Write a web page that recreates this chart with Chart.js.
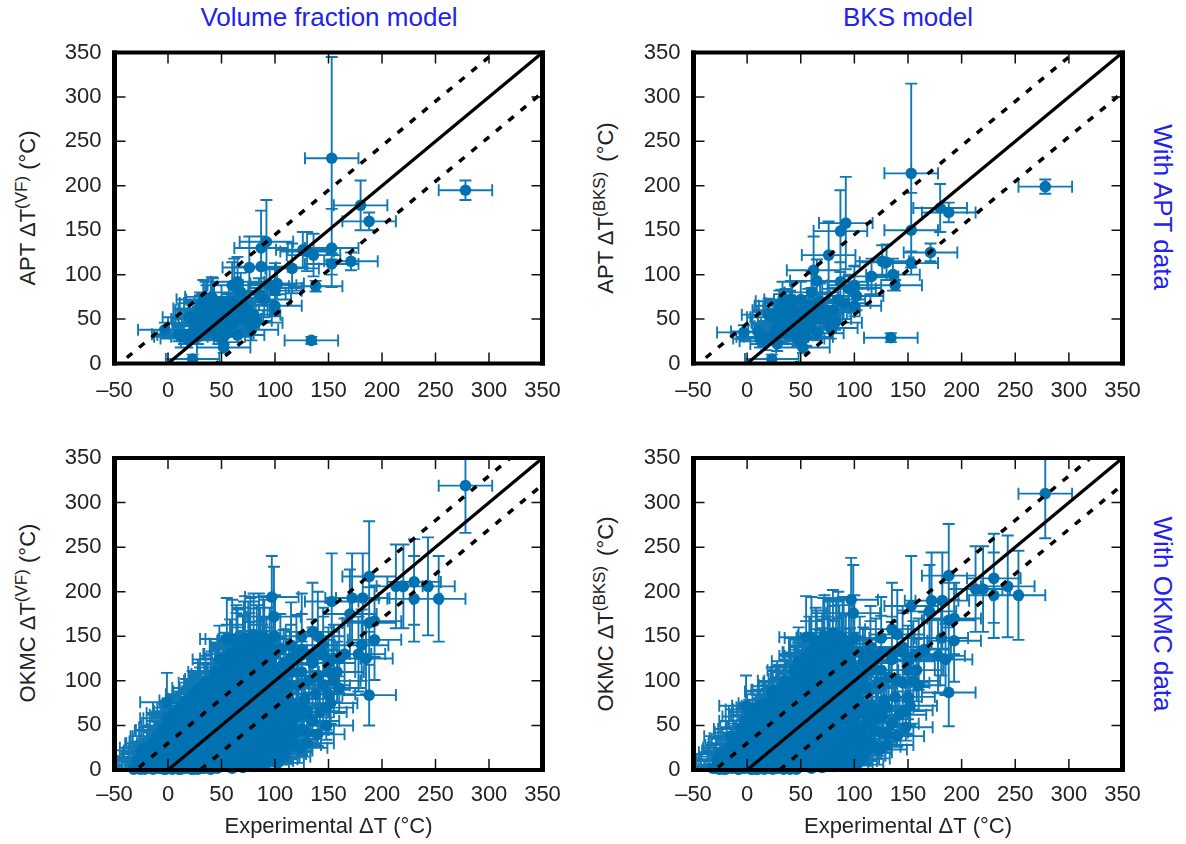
<!DOCTYPE html>
<html>
<head>
<meta charset="utf-8">
<script src="https://cdn.jsdelivr.net/npm/chart.js@4"></script>
<style>
  html, body { margin: 0; padding: 0; background: #fff; }
  body { width: 1186px; height: 844px; position: relative; overflow: hidden; font-family: "Liberation Sans", sans-serif; }
  canvas { position: absolute; }
  .head, .side, .ylab { position: absolute; white-space: nowrap; line-height: 1; }
  .head, .side { color: #2222ee; font-size: 26px; }
  .head { transform: translateX(-50%); top: 4px; }
  .side { transform: translate(-50%, -50%) rotate(90deg); }
  .ylab { color: #222; font-size: 22px; transform: translate(-50%, -50%) rotate(-90deg); }
  .gap { margin-left: 10px; }
  sup { font-size: 17px; line-height: 0; }
</style>
</head>
<body>
<div class="head" style="left:329px">Volume fraction model</div>
<div class="head" style="left:908px">BKS model</div>
<div class="side" style="left:1163px;top:207px">With APT data</div>
<div class="side" style="left:1163px;top:614px">With OKMC data</div>
<div class="ylab" style="left:28px;top:208px">APT ΔT<sup>(VF)</sup> (°C)</div>
<div class="ylab" style="left:606px;top:208px">APT ΔT<sup>(BKS)</sup><span class="gap">(°C)</span></div>
<div class="ylab" style="left:28px;top:613px">OKMC ΔT<sup>(VF)</sup> (°C)</div>
<div class="ylab" style="left:606px;top:614px">OKMC ΔT<sup>(BKS)</sup><span class="gap">(°C)</span></div>
<canvas id="aptVF" width="580" height="380" style="left:0;top:30px"></canvas>
<canvas id="aptBKS" width="596" height="380" style="left:590px;top:30px"></canvas>
<canvas id="okmcVF" width="580" height="414" style="left:0;top:430px"></canvas>
<canvas id="okmcBKS" width="596" height="414" style="left:590px;top:430px"></canvas>
<script>
// experimental error is about the same for every measurement
const expError = 25;
const tickValues = [-50, 0, 50, 100, 150, 200, 250, 300, 350];
const lineX = [-50, 350];
const parityY = [-50, 350];
const aptUpperY = [-5, 395];
const aptLowerY = [-95, 305];
const okmcUpperY = [-20, 380];
const okmcLowerY = [-80, 320];

// APT data set
const aptExp = [
  278,153,153,153,180,188,92,87,76,62,
  126,130,136,171,116,134,138,23,52,-3,
  82,100,100,102,87,65,60,68,55,100,
  10,12,15,18,20,22,25,28,30,30,
  32,33,35,35,38,40,40,42,45,45,
  48,50,50,52,55,55,58,60,60,62,
  65,68,70,72,75,78,80,85,90,95,
  28,30,32,34,36,38,40,42,44,46,
  26,29,33,37,41,47,50,53,57,64
];
const aptVF = [
  195,231,130,112,178,160,137,130,108,88,
  128,126,122,115,107,26,87,5,18,38,
  46,65,85,90,109,92,88,80,62,82,
  33,30,32,28,52,34,46,30,55,42,
  60,38,62,50,52,68,44,72,58,36,
  48,70,42,30,58,34,46,70,45,50,
  32,60,66,48,60,38,55,78,72,88,
  50,62,45,55,68,42,58,48,62,40,
  38,44,72,36,75,30,56,42,68,52
];
const aptVFErr = [
  11,114,44,12,28,10,47,42,35,30,
  20,22,24,10,28,4,6,5,6,8,
  8,12,28,18,34,28,26,22,16,24,
  8,12,10,10,18,9,14,8,22,10,
  18,12,30,12,18,20,12,24,16,10,
  14,18,12,8,16,10,12,22,12,14,
  8,16,16,12,14,12,14,18,20,18,
  14,18,12,16,20,12,16,14,18,11,
  10,12,22,10,22,8,16,12,20,14
];
const aptBKS = [
  199,214,150,113,175,170,158,149,122,105,
  115,114,100,125,98,29,88,5,18,35,
  46,65,85,76,92,93,80,70,60,88,
  36,28,30,25,55,30,52,22,58,45,
  65,35,55,48,44,62,36,68,50,38,
  50,72,40,28,55,30,42,65,48,52,
  34,58,62,50,58,40,60,72,68,84,
  52,60,42,58,65,40,60,50,58,42,
  36,46,70,34,72,28,58,40,65,50
];
const aptBKSErr = [
  8,101,42,13,27,11,52,46,38,38,
  18,20,18,10,20,5,6,5,6,8,
  8,12,24,16,22,24,24,20,16,22,
  8,10,10,10,18,9,15,8,24,10,
  18,12,26,12,16,20,10,24,16,10,
  14,20,12,8,16,10,12,20,12,14,
  8,16,16,12,14,12,16,16,18,16,
  14,18,12,17,19,11,17,14,17,11,
  10,13,22,9,21,8,17,11,19,14
];

// OKMC data set
const okmcExp = [
  278,188,-1,97,99,188,153,172,182,170,
  213,220,230,230,243,253,193,188,193,181,
  178,185,55,60,72,80,85,90,48,62,
  148,130,125,130,140,125,135,100,145,150,
  155,150,160,120,110,105,115,135,140,100,
  95,90,85,80,75,70,65,60,55,50,
  45,40,35,30,25,20,15,10,5,0,
  -5,-10,-15,-20,-25,-28,-30,-22,-18,-12,
  -8,-4,0,4,8,12,16,20,24,28,
  32,36,40,44,48,52,55,60,65,70,
  5,5,8,10,12,15,15,18,20,22,
  22,25,28,28,30,30,32,35,35,38,
  38,40,40,42,45,45,48,48,50,50,
  52,52,55,55,58,58,60,60,62,62,
  65,65,68,68,70,70,72,72,75,75,
  78,78,80,80,82,82,85,85,88,88,
  90,90,92,92,95,95,98,98,100,100,
  102,102,105,105,108,108,110,110,112,115,
  118,120,122,125,125,128,130,132,135,138,
  140,142,145,148,150,152,155,158,160,165,
  -15,-10,-8,-5,-2,0,2,3,5,8,
  10,12,14,16,18,20,24,26,28,34,
  36,42,46,54,56,64,66,74,76,84,
  60,70,80,88,92,98,104,110,118,124,
  -25,-22,-20,-18,-16,-14,-12,-10,-8,-6,
  -4,-2,0,2,4,6,8,10,12,14,
  14,16,18,20,22,24,26,28,30,32,
  32,34,36,38,40,42,44,46,48,50,
  52,54,56,58,60,62,64,66,68,70,
  72,74,76,78,80,82,84,86,88,90,
  12,18,24,30,36,42,48,54,60,66,
  72,78,84,90,96,102,108,114,120,126,
  60,64,68,72,76,80,84,88,92,96,
  40,44,48,52,56,60,64,68,72,76,
  80,84,88,92,96,100,104,108,112,116,
  2,6,10,14,18,22,26,30,34,38,
  42,46,50,54,58,62,66,70,74,78,
  82,86,90,94,98,102,106,110,114,118,
  55,65,75,85,95,105,115,125,135,145,
  70,75,80,85,90,95,100,105,110,115,
  -32,-26,-20,-14,-8,-2,4,10,16,22,
  28,34,40,46,-24,-17,-11,-6,-1,5,
  11,17,23,29,35,41,47,53,59,65,
  71,77,83,89,95,47,53,59,65,71,
  0,6,12,18,24,30,36,42,48,54,
  60,66,72,78,84,90,96,102,108,114,
  6,12,18,24,30,36,42,48,54,60,
  66,72,78,84,90,96,30,36,42,48,
  54,60,66,72,78,84,90,96,102,108,
  -10,-4,2,8,14,20,26,32,38,44,
  50,56,62,68,74,80,86,92,98,104,
  26,32,38,44,50,56,62,68,74,80,
  86,92,98,104,70,76,82,88,94,100,
  58,64,70,76,82,88,94,52,46,40,
  36,30,24,18,12,6,0,-6,-12,-18
];
const okmcVF = [
  319,84,76,194,172,217,189,193,193,175,
  206,206,211,192,206,192,167,165,146,140,
  130,125,147,147,147,152,148,147,124,110,
  70,42,70,65,150,150,155,150,130,110,
  100,120,125,130,118,100,140,120,105,130,
  120,110,125,135,115,130,120,105,110,100,
  105,95,90,85,80,75,70,60,55,50,
  45,38,30,25,22,12,2,1,15,3,
  2,1,3,1,2,1,4,2,1,3,
  2,6,3,5,4,8,6,10,8,5,
  12,30,22,40,18,48,28,10,35,58,
  20,42,12,65,30,50,8,75,22,40,
  62,15,85,32,50,72,10,90,28,60,
  42,80,18,95,35,68,12,88,50,115,
  30,75,15,100,45,90,22,60,10,80,
  38,110,18,70,50,95,28,62,12,105,
  45,80,25,130,60,95,35,72,20,110,
  48,85,30,68,15,120,55,92,38,75,
  28,60,95,45,110,80,30,100,55,85,
  40,65,95,50,85,75,125,110,92,130,
  8,18,28,12,35,22,42,8,62,15,
  8,52,30,60,22,68,5,72,45,58,
  30,55,20,55,26,48,62,35,70,55,
  2,3,4,6,10,14,18,22,28,25,
  5,10,18,8,22,30,14,26,38,20,
  30,48,12,58,28,40,54,22,66,34,
  12,44,72,18,50,82,28,58,88,14,
  42,68,92,18,52,78,32,95,60,12,
  28,70,100,50,8,85,38,110,58,20,
  45,92,15,68,125,30,55,140,8,100,
  60,30,62,40,72,28,42,60,35,48,
  75,48,72,60,48,60,68,55,70,62,
  125,135,118,140,128,145,112,130,115,120,
  100,110,82,105,88,98,92,88,100,105,
  85,95,88,75,85,70,80,105,95,110,
  18,8,35,52,48,65,15,78,35,25,
  5,42,45,35,80,68,5,70,55,12,
  15,28,38,30,55,40,45,30,60,42,
  125,140,145,120,140,135,125,135,130,140,
  38,30,60,42,12,20,35,22,75,50,
  1,1,2,1,2,1,2,1,2,1,
  1,2,1,2,14,20,32,44,58,64,
  70,78,85,92,98,102,108,118,130,138,
  145,148,142,150,140,92,100,112,125,132,
  38,46,8,25,32,18,8,22,36,15,
  25,42,10,28,48,20,12,8,25,35,
  25,42,38,55,68,55,42,52,48,60,
  70,85,95,105,115,105,25,42,62,72,
  88,75,85,68,80,90,55,70,85,50,
  8,18,36,62,22,42,58,30,48,70,
  40,58,78,92,105,120,75,88,62,42,
  38,55,72,85,95,75,62,48,32,52,
  18,10,28,35,105,112,118,98,92,100,
  130,142,120,135,105,125,68,65,38,28,
  80,72,48,58,28,38,22,12,22,12
];
const okmcVFErr = [
  53,34,33,46,56,62,54,50,50,50,
  47,47,48,48,55,48,40,40,45,40,
  42,40,46,44,48,46,50,44,38,34,
  25,20,24,22,50,48,55,46,42,36,
  34,40,38,44,40,32,48,40,32,42,
  40,36,42,46,38,44,40,34,36,32,
  32,30,28,26,24,22,20,18,16,15,
  14,12,10,8,7,5,1,1,5,1,
  1,1,1,1,1,1,2,1,1,1,
  1,3,2,2,2,4,3,5,4,3,
  5,10,8,13,6,15,9,4,11,18,
  7,13,5,20,10,16,3,23,8,13,
  19,6,26,10,16,22,4,28,9,19,
  13,25,7,29,11,21,5,27,16,35,
  10,23,6,31,14,28,8,19,4,25,
  12,34,6,22,16,29,9,19,5,32,
  14,25,8,40,19,29,11,22,7,34,
  15,26,10,21,5,37,17,28,12,23,
  9,19,29,14,34,25,10,31,17,26,
  13,20,29,16,26,23,38,34,28,40,
  3,6,9,4,11,7,13,3,19,5,
  3,16,10,18,7,21,2,22,14,18,
  10,17,7,17,8,15,19,11,21,17,
  1,1,2,3,4,5,6,7,9,8,
  2,3,6,3,7,10,5,9,12,7,
  10,15,4,18,9,13,17,7,20,11,
  4,14,22,6,16,25,9,18,27,5,
  13,21,28,6,16,24,10,29,18,4,
  9,21,30,15,3,26,12,33,18,6,
  14,28,5,21,38,9,17,42,3,30,
  18,9,19,12,22,9,13,18,11,15,
  23,15,22,18,15,18,21,17,21,19,
  38,41,36,42,38,44,34,39,35,36,
  30,33,25,32,26,30,28,26,30,32,
  26,29,26,23,26,21,24,32,29,33,
  6,3,11,16,14,20,5,23,11,8,
  2,13,14,11,24,20,2,21,17,4,
  5,9,12,9,17,12,14,9,18,13,
  38,42,44,36,42,40,38,40,39,42,
  12,9,18,13,4,6,11,7,23,15,
  1,1,1,1,1,1,1,1,1,1,
  1,1,1,1,5,7,10,14,18,20,
  22,24,26,28,30,31,33,36,39,42,
  44,45,43,45,42,28,30,34,38,40,
  12,14,3,8,10,6,3,7,11,5,
  8,13,3,9,15,6,4,3,8,11,
  8,13,12,17,21,17,13,16,15,18,
  21,26,29,32,35,32,8,13,19,22,
  27,23,26,21,24,27,17,21,26,15,
  3,6,11,19,7,13,18,9,15,21,
  12,18,24,28,32,36,23,27,19,13,
  12,17,22,26,29,23,19,15,10,16,
  6,3,9,11,32,34,36,30,28,30,
  39,43,36,41,32,38,21,20,12,9,
  24,22,15,18,9,12,7,4,7,4
];
const okmcBKS = [
  310,87,72,191,176,218,184,190,190,178,
  203,203,215,196,206,196,170,168,145,148,
  128,124,149,148,150,154,150,146,122,112,
  67,40,66,70,152,148,158,148,132,112,
  100,122,130,128,120,98,138,124,100,132,
  118,108,128,138,112,132,118,108,112,98,
  102,92,88,84,78,72,70,62,52,48,
  42,36,38,20,18,10,2,1,12,3,
  1,2,3,1,1,2,3,2,1,2,
  3,5,4,6,3,7,5,9,10,4,
  10,28,20,42,16,50,26,8,33,60,
  18,44,10,62,28,52,6,78,20,38,
  60,13,88,30,52,70,8,92,26,58,
  40,82,16,98,32,66,10,90,48,118,
  28,72,13,102,42,92,20,58,8,78,
  36,112,16,68,48,97,26,60,10,108,
  42,78,23,133,58,92,32,70,18,112,
  45,88,28,65,13,122,52,95,35,72,
  26,58,98,42,112,78,28,104,52,82,
  38,62,98,48,82,72,128,112,95,135,
  6,16,30,10,37,20,40,6,60,13,
  6,50,28,62,20,65,4,70,43,55,
  28,52,18,52,24,46,60,32,68,52,
  2,3,4,5,8,12,16,20,26,23,
  4,12,15,6,25,28,12,28,35,22,
  33,46,10,60,25,42,52,24,68,32,
  10,46,70,20,48,85,25,60,90,12,
  44,65,95,15,55,75,35,92,62,10,
  25,72,98,52,6,88,35,112,55,18,
  48,90,12,70,128,28,58,142,6,102,
  62,28,65,38,74,25,45,58,38,45,
  72,50,70,62,45,62,65,58,68,60,
  128,132,120,138,130,148,110,132,112,122,
  98,112,80,108,85,100,90,90,98,108,
  82,98,85,78,82,72,78,108,92,112,
  20,6,38,50,50,62,12,80,32,28,
  4,44,42,38,78,70,4,68,58,10,
  12,30,35,32,52,42,42,32,58,45,
  128,138,148,118,142,132,128,132,132,138,
  35,32,58,45,10,22,32,25,72,52,
  2,1,1,2,1,2,1,1,1,2,
  2,1,1,1,12,22,30,46,55,68,
  72,75,88,90,100,100,110,115,132,135,
  148,145,145,148,142,90,102,110,128,130,
  36,48,6,28,30,20,6,24,34,18,
  22,45,8,30,45,22,10,6,28,32,
  28,40,40,52,70,52,45,50,50,58,
  68,88,92,108,112,108,22,45,60,75,
  90,72,88,65,82,88,58,68,88,48,
  6,20,34,65,20,45,55,32,46,72,
  42,55,80,90,108,118,78,85,65,40,
  40,52,75,82,98,72,65,45,35,50,
  15,12,25,38,108,110,120,95,95,98,
  132,140,122,132,108,122,70,62,40,25,
  82,70,50,55,30,35,24,10,25,10
];
const okmcBKSErr = [
  50,38,34,47,54,58,56,54,54,52,
  48,48,50,48,57,50,40,42,46,42,
  42,40,46,46,46,48,50,46,38,36,
  26,20,24,24,50,46,52,48,44,36,
  32,40,40,42,38,34,46,42,34,44,
  40,38,42,46,38,44,40,36,38,32,
  30,28,28,26,24,22,20,18,16,15,
  14,12,11,7,6,4,1,1,4,1,
  1,1,1,1,1,1,1,1,1,1,
  1,2,2,3,1,4,3,5,5,2,
  4,10,7,14,6,16,9,3,11,19,
  6,14,4,20,9,17,2,24,7,13,
  19,5,27,10,17,22,3,29,9,18,
  13,26,6,30,10,21,4,28,15,36,
  9,22,5,32,13,28,7,18,3,24,
  12,35,5,21,15,30,9,19,4,33,
  13,24,8,41,18,28,10,22,6,35,
  14,27,9,20,5,38,16,29,11,22,
  9,18,30,13,35,24,9,32,16,25,
  12,19,30,15,25,22,39,35,29,42,
  2,5,10,3,12,6,13,2,19,4,
  2,16,9,19,6,20,2,21,14,17,
  9,16,6,16,8,14,18,10,20,16,
  1,1,2,2,3,4,5,6,8,7,
  2,4,5,2,8,9,4,10,11,7,
  11,14,3,19,8,13,16,8,21,10,
  3,15,21,7,15,26,8,19,28,4,
  14,20,29,5,17,23,11,28,19,3,
  8,22,29,16,2,27,11,34,17,6,
  15,27,4,22,39,9,18,43,2,31,
  19,9,20,12,23,8,14,18,12,14,
  22,16,21,19,14,19,20,18,21,18,
  39,40,37,41,39,45,33,40,34,37,
  29,34,24,33,26,31,27,27,29,33,
  25,30,26,24,25,22,24,33,28,34,
  7,2,12,15,15,19,4,24,10,9,
  2,14,13,12,24,21,2,21,18,3,
  4,10,11,10,16,13,13,10,18,14,
  39,41,45,36,43,40,39,41,40,41,
  11,10,18,14,3,7,10,8,22,16,
  1,1,1,1,1,1,1,1,1,1,
  1,1,1,1,4,7,9,15,17,21,
  22,23,27,27,30,30,33,35,40,41,
  45,44,44,46,43,27,31,33,39,39,
  11,15,2,9,9,6,2,8,10,5,
  7,14,3,9,14,7,3,2,8,10,
  9,12,12,16,21,16,14,15,15,18,
  21,27,28,33,34,33,7,14,18,23,
  27,22,27,20,25,27,18,21,27,15,
  2,6,10,20,6,14,17,10,14,22,
  13,17,24,27,33,36,24,26,20,12,
  12,16,23,25,30,22,20,14,11,15,
  5,4,8,12,33,33,36,29,29,30,
  40,42,37,40,33,37,21,19,12,8,
  25,21,15,17,9,11,7,3,8,3
];

const dotColor = '#0072b2';
const barColor = '#0f78b5';
const inkColor = '#222';

// error bars with end caps, drawn under the dots
const errorBars = {
  id: 'errorBars',
  beforeDatasetsDraw(chart, args, opts) {
    const { ctx, chartArea: a, scales: { x, y } } = chart;
    ctx.save();
    ctx.beginPath();
    ctx.rect(a.left, a.top, a.width, a.height);
    ctx.clip();
    ctx.strokeStyle = barColor;
    ctx.lineWidth = 1.9;
    ctx.beginPath();
    opts.xs.forEach((v, i) => {
      const px = x.getPixelForValue(v);
      const py = y.getPixelForValue(opts.ys[i]);
      const left = x.getPixelForValue(v - expError);
      const right = x.getPixelForValue(v + expError);
      const low = y.getPixelForValue(opts.ys[i] - opts.errs[i]);
      const high = y.getPixelForValue(opts.ys[i] + opts.errs[i]);
      ctx.moveTo(left, py); ctx.lineTo(right, py);
      ctx.moveTo(px, low); ctx.lineTo(px, high);
      ctx.moveTo(left, py - 6); ctx.lineTo(left, py + 6);
      ctx.moveTo(right, py - 6); ctx.lineTo(right, py + 6);
      ctx.moveTo(px - 6, low); ctx.lineTo(px + 6, low);
      ctx.moveTo(px - 6, high); ctx.lineTo(px + 6, high);
    });
    ctx.stroke();
    ctx.restore();
  }
};

// heavy gnuplot style frame with inward ticks on all four sides
const frame = {
  id: 'frame',
  afterDraw(chart) {
    const { ctx, chartArea: a, scales: { x, y } } = chart;
    ctx.save();
    ctx.strokeStyle = '#111';
    ctx.lineWidth = 1.5;
    ctx.beginPath();
    tickValues.forEach(v => {
      const px = x.getPixelForValue(v);
      ctx.moveTo(px, a.bottom); ctx.lineTo(px, a.bottom - 11);
      ctx.moveTo(px, a.top); ctx.lineTo(px, a.top + 11);
      if (v >= 0) {
        const py = y.getPixelForValue(v);
        ctx.moveTo(a.left, py); ctx.lineTo(a.left + 11, py);
        ctx.moveTo(a.right, py); ctx.lineTo(a.right - 11, py);
      }
    });
    ctx.stroke();
    ctx.strokeStyle = '#000';
    ctx.lineWidth = 4;
    ctx.beginPath();
    ctx.moveTo(a.left - 2.5, a.top); ctx.lineTo(a.right + 2.5, a.top);
    ctx.moveTo(a.left - 2.5, a.bottom); ctx.lineTo(a.right + 2.5, a.bottom);
    ctx.stroke();
    ctx.lineWidth = 5;
    ctx.beginPath();
    ctx.moveTo(a.left, a.top - 2); ctx.lineTo(a.left, a.bottom + 2);
    ctx.moveTo(a.right, a.top - 2); ctx.lineTo(a.right, a.bottom + 2);
    ctx.stroke();
    ctx.restore();
  }
};

function makePanel(id, box, expX, ys, errs, upperY, lowerY, showTitle) {
  const points = expX.map((v, i) => ({ x: v, y: ys[i] }));
  const line = (yy) => lineX.map((v, i) => ({ x: v, y: yy[i] }));
  new Chart(document.getElementById(id), {
    type: 'scatter',
    plugins: [errorBars, frame],
    data: {
      datasets: [
        { data: line(parityY), type: 'line', borderColor: '#000', borderWidth: 3.2, pointRadius: 0, order: 1 },
        { data: line(upperY), type: 'line', borderColor: '#000', borderWidth: 3.5, borderDash: [7, 9], pointRadius: 0, order: 2 },
        { data: line(lowerY), type: 'line', borderColor: '#000', borderWidth: 3.5, borderDash: [7, 9], pointRadius: 0, order: 3 },
        // dots on the zero line spill over the frame in the original
        { data: points, backgroundColor: dotColor, borderWidth: 0, pointRadius: 5.8, clip: false, order: 4 }
      ]
    },
    options: {
      responsive: false,
      animation: false,
      layout: { padding: { top: box.top, right: box.right, left: 0, bottom: box.bottom } },
      plugins: {
        legend: { display: false },
        tooltip: { enabled: false },
        errorBars: { xs: expX, ys: ys, errs: errs }
      },
      scales: {
        x: {
          type: 'linear',
          min: -50,
          max: 350,
          grid: { display: false },
          border: { display: false },
          afterBuildTicks: s => { s.ticks = tickValues.map(v => ({ value: v })); },
          afterFit: s => { s.height = box.axisH; s.paddingLeft = 0; s.paddingRight = 0; },
          ticks: {
            maxRotation: 0,
            autoSkip: false,
            padding: box.tickPad,
            color: inkColor,
            font: { family: 'Liberation Sans', size: 22 },
            callback: v => String(v).replace('-', '–')
          },
          title: {
            display: showTitle,
            text: 'Experimental ΔT (°C)',
            color: inkColor,
            font: { family: 'Liberation Sans', size: 22 },
            padding: { top: 4, bottom: 0 }
          }
        },
        y: {
          min: 0,
          max: 350,
          grid: { display: false },
          border: { display: false },
          afterBuildTicks: s => { s.ticks = tickValues.filter(v => v >= 0).map(v => ({ value: v })); },
          afterFit: s => { s.width = box.axisW; s.paddingTop = 0; s.paddingBottom = 0; },
          ticks: {
            padding: 5,
            color: inkColor,
            font: { family: 'Liberation Sans', size: 22 }
          }
        }
      }
    }
  });
}

makePanel('aptVF', { axisW: 114.5, axisH: 46.5, top: 22.5, right: 37.5, bottom: 0, tickPad: 6 }, aptExp, aptVF, aptVFErr, aptUpperY, aptLowerY, false);
makePanel('aptBKS', { axisW: 103.5, axisH: 46.5, top: 22.5, right: 63.5, bottom: 0, tickPad: 6 }, aptExp, aptBKS, aptBKSErr, aptUpperY, aptLowerY, false);
makePanel('okmcVF', { axisW: 114.5, axisH: 70, top: 28, right: 37.5, bottom: 4, tickPad: 4 }, okmcExp, okmcVF, okmcVFErr, okmcUpperY, okmcLowerY, true);
makePanel('okmcBKS', { axisW: 103.5, axisH: 70, top: 28, right: 63.5, bottom: 4, tickPad: 4 }, okmcExp, okmcBKS, okmcBKSErr, okmcUpperY, okmcLowerY, true);
</script>
</body>
</html>
